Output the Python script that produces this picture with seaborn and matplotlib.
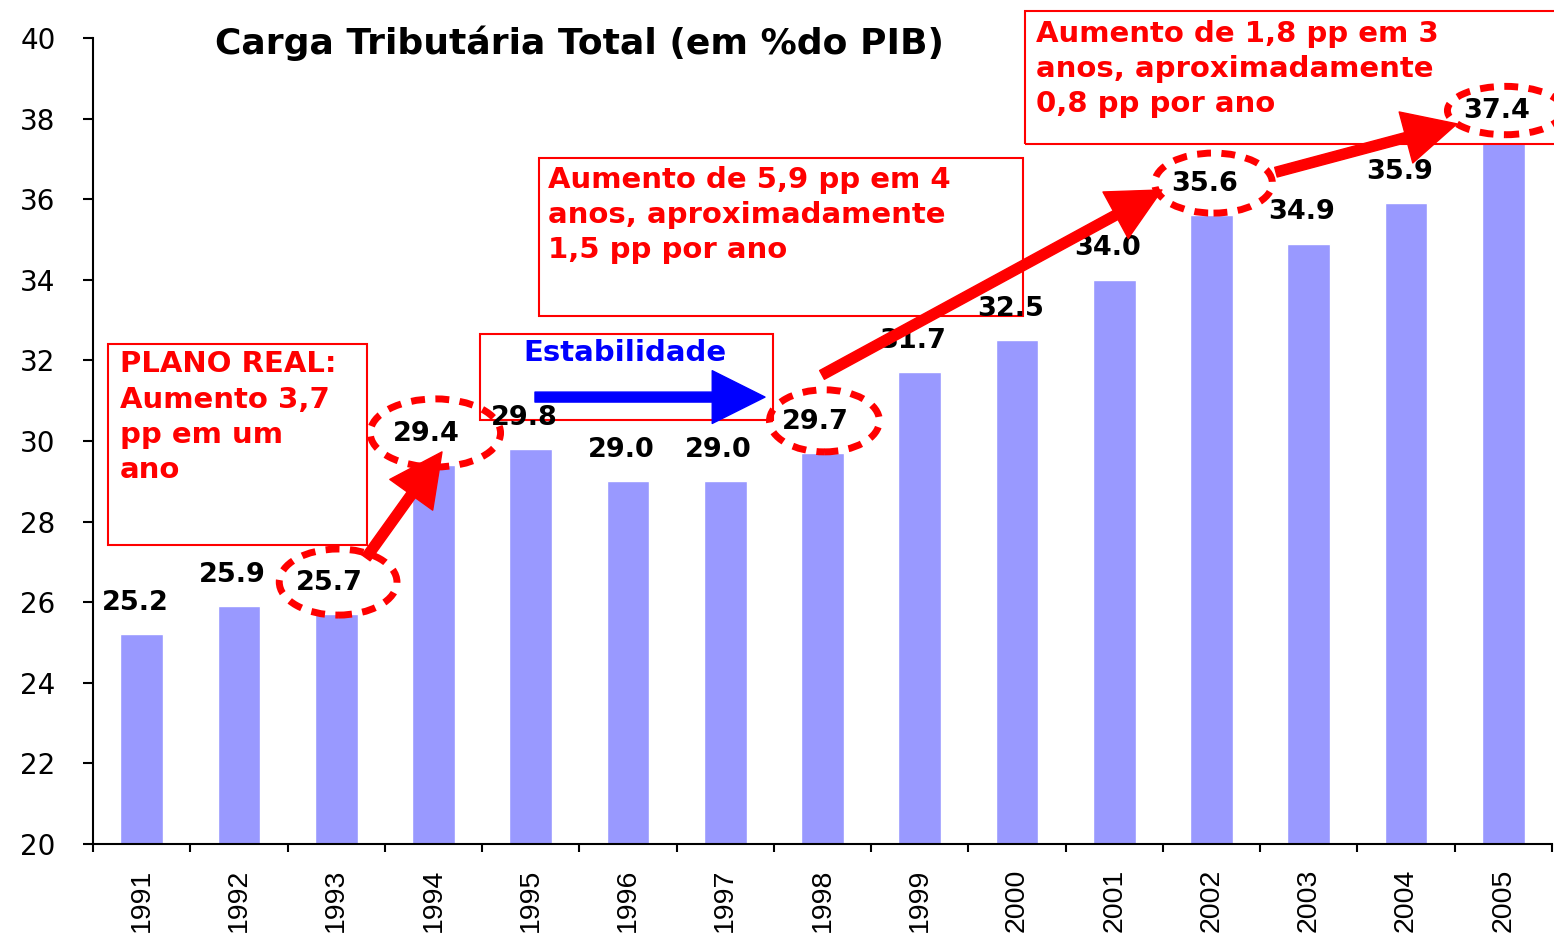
import matplotlib
matplotlib.use("Agg")
import matplotlib.pyplot as plt
from matplotlib.patches import Ellipse, Rectangle
from matplotlib.ticker import FixedLocator
import seaborn as sns
import pandas as pd

# dados
anos = [str(a) for a in range(1991, 2006)]
carga = [25.2, 25.9, 25.7, 29.4, 29.8, 29.0, 29.0, 29.7,
         31.7, 32.5, 34.0, 35.6, 34.9, 35.9, 37.4]
destaques = ["1993", "1994", "1998", "2002", "2005"]

titulo = "Carga Tributária Total (em %do PIB)"
txt_plano = "PLANO REAL:\nAumento 3,7\npp em um\nano"
txt_estab = "Estabilidade"
txt_59 = "Aumento de 5,9 pp em 4\nanos, aproximadamente\n1,5 pp por ano"
txt_18 = "Aumento de 1,8 pp em 3\nanos, aproximadamente\n0,8 pp por ano"

RED = "#FF0000"
BAR = "#9999FF"

df = pd.DataFrame({"ano": anos, "carga": carga})

sns.set_theme(style="ticks")
plt.rcParams["font.family"] = ["DejaVu Sans"]

fig = plt.figure(figsize=(15.54, 9.34), dpi=100)
ax = fig.add_axes([93 / 1554, 90 / 934, 1459 / 1554, 806 / 934])

sns.barplot(data=df, x="ano", y="carga", color=BAR, saturation=1,
            width=0.44, ax=ax)

ax.set_ylim(20, 40)
ax.set_xlim(-0.5, len(anos) - 0.5)
ax.set_xlabel("")
ax.set_ylabel("")
ax.set_yticks(range(20, 41, 2))
for lbl in ax.get_yticklabels():
    lbl.set_fontsize(20)
ax.tick_params(axis="y", length=7, width=1.5, pad=20, color="black",
               labelcolor="black")
ax.tick_params(axis="x", which="major", length=0, pad=18, labelcolor="black")
ax.xaxis.set_minor_locator(FixedLocator([i - 0.5 for i in range(len(anos) + 1)]))
ax.tick_params(axis="x", which="minor", length=6, width=1.5, direction="out",
               color="black")
for lbl in ax.get_xticklabels():
    lbl.set_rotation(90)
    lbl.set_fontsize(20.5)
    lbl.set_fontfamily("Liberation Sans")
    lbl.set_va("top")
sns.despine(ax=ax)
for s in ("left", "bottom"):
    ax.spines[s].set_linewidth(1.5)
    ax.spines[s].set_color("black")

# caixas de texto
caixas = [(-0.346, 27.42, 2.663, 4.99),
          (4.085, 33.10, 4.976, 3.92),
          (3.479, 30.52, 3.012, 2.14),
          (9.082, 37.37, 6.0, 3.3)]
for x0, y0, w, h in caixas:
    ax.add_patch(Rectangle((x0, y0), w, h, fill=False, edgecolor=RED,
                           lw=1.5, clip_on=False, zorder=3))

# rótulos de valores
for i, (a, v) in enumerate(zip(anos, carga)):
    ax.text(i - 0.07, v + 0.78, f"{v:.1f}", ha="center", va="center",
            fontsize=19.5, fontweight="bold", color="black", zorder=6)

# elipses tracejadas
tam = {"1993": (1.21, 1.64), "1994": (1.34, 1.69), "1998": (1.13, 1.54),
       "2002": (1.21, 1.49), "2005": (1.19, 1.2)}
for a in destaques:
    i = anos.index(a)
    w, h = tam[a]
    ax.add_patch(Ellipse((i + 0.02, carga[i] + 0.8), w, h, fill=False,
                         edgecolor=RED, lw=5, linestyle=(0, (2.0, 1.5)),
                         clip_on=False, zorder=5))

# textos
ax.text(4.5, 39.88, titulo, ha="center", va="center", fontsize=26,
        fontweight="bold", color="black")
ax.text(-0.222, 30.59, txt_plano, ha="left", va="center", fontsize=21,
        fontweight="bold", color=RED, linespacing=1.33, zorder=4)
ax.text(4.969, 32.18, txt_estab, ha="center", va="center", fontsize=21,
        fontweight="bold", color="#0000FF", zorder=4)
ax.text(4.178, 35.61, txt_59, ha="left", va="center", fontsize=21,
        fontweight="bold", color=RED, linespacing=1.3, zorder=4)
ax.text(9.195, 39.23, txt_18, ha="left", va="center", fontsize=21,
        fontweight="bold", color=RED, linespacing=1.3, zorder=4,
        clip_on=False)

# setas
setas = [((2.307, 27.10), (3.088, 29.73), RED),
         ((4.044, 31.09), (6.409, 31.09), "#0000FF"),
         ((6.995, 31.64), (10.49, 36.23), RED),
         ((11.662, 36.67), (13.523, 37.87), RED)]
for (x0, y0), (x1, y1), c in setas:
    ax.annotate("", xy=(x1, y1), xytext=(x0, y0),
                arrowprops=dict(arrowstyle="simple,head_length=1.9,head_width=1.9,tail_width=0.36",
                                mutation_scale=20, color=c, shrinkA=0, shrinkB=0),
                zorder=7, annotation_clip=False)

fig.savefig("out.png", dpi=100)
